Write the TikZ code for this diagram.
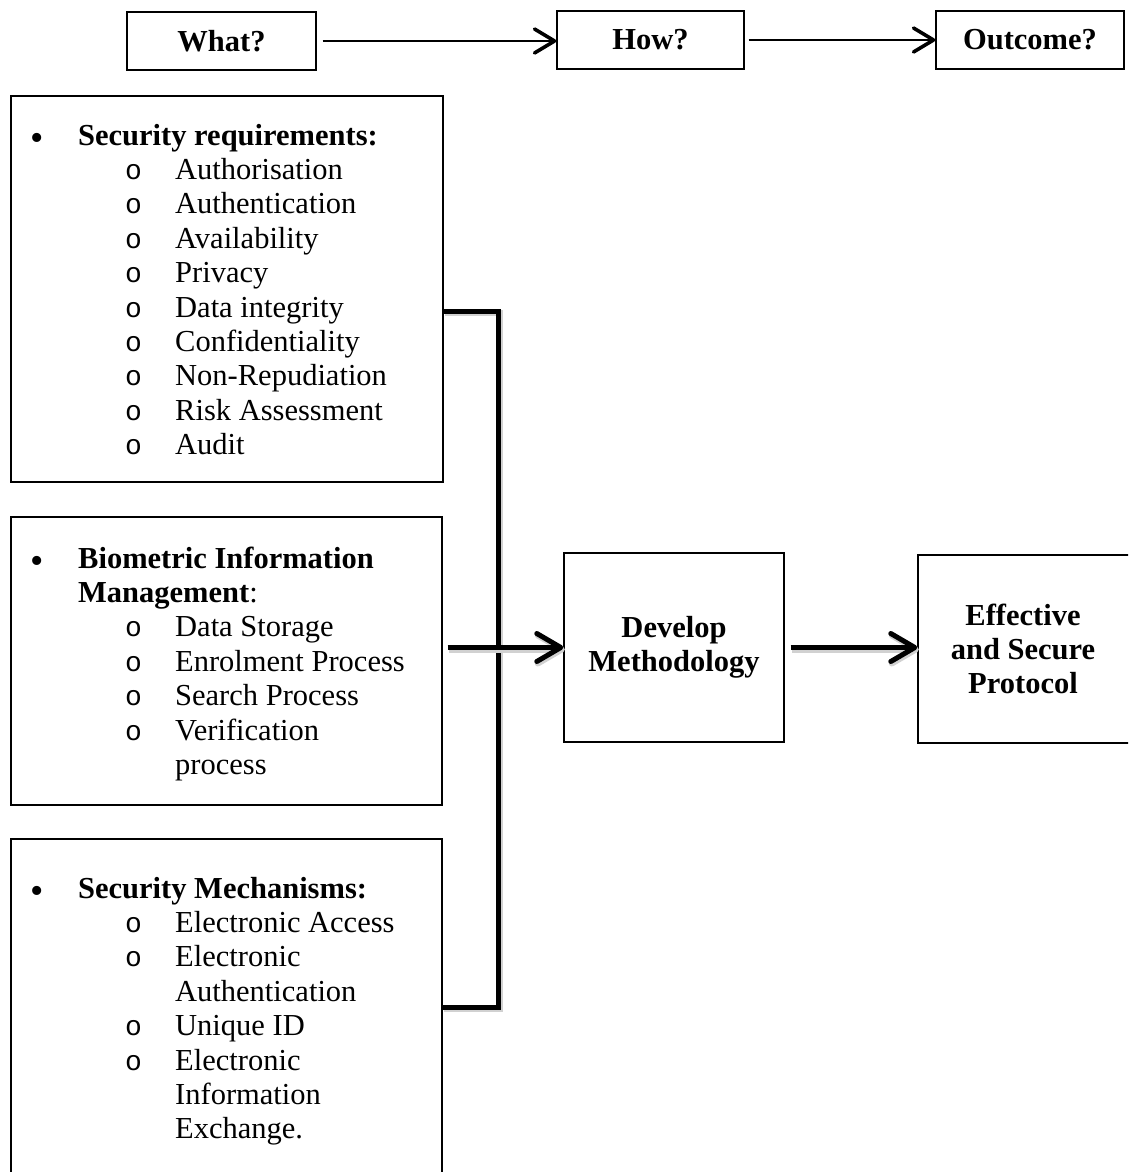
\documentclass[tikz,border=0pt]{standalone}
\usepackage{fontspec}
\setmainfont{Liberation Serif}
\setmonofont{Liberation Mono}
\usetikzlibrary{arrows.meta}

% list line helpers
\newcommand{\bulletmark}{{\fontsize{38}{34.4}\selectfont\raisebox{-5pt}{\textbullet}}}
\newcommand{\circmark}{{\fontsize{28}{34.4}\selectfont\texttt{o}}}
\newcommand{\hdline}[1]{\makebox[48pt][l]{\bulletmark}\textbf{#1}}
\newcommand{\hdcont}[1]{\hspace*{48pt}#1}
\newcommand{\subitm}[1]{\hspace*{95pt}\makebox[50pt][l]{\circmark}#1}
\newcommand{\subcont}[1]{\hspace*{145pt}#1}

\begin{document}
\begin{tikzpicture}[x=1pt,y=-1pt,
  font=\fontsize{30.5}{34.4}\selectfont,
  frame/.style={draw, line width=1.4pt, inner sep=0pt, align=center},
  listtext/.style={inner sep=0pt, text width=410pt, align=flush left, anchor=north west},
  thinarrow/.style={line width=2.2pt, -{Straight Barb[length=20pt,width=24pt,line width=3.6pt,round]}},
  thick link/.style={line width=5pt, line join=miter,
    preaction={draw=black!18, line width=6pt, transform canvas={shift={(1.5pt,-2pt)}}}},
  thickarrow/.style={thick link, -{Straight Barb[length=24pt,width=28pt,round]}}]

\useasboundingbox (0,0) rectangle (1128,1172);
\clip (0,0) rectangle (1128,1172);

% heading row
\node[frame, minimum width=189pt, minimum height=58pt] (what) at (221.5,41) {\textbf{What?}};
\node[frame, minimum width=187pt, minimum height=58pt] (how) at (650.5,40) {\textbf{How?}};
\node[frame, minimum width=188pt, minimum height=58pt] (outcome) at (1030,40) {\textbf{Outcome?}};

\draw[thinarrow, shorten <=6pt] (what.east) -- (how.west |- what.east);
\draw[thinarrow, shorten <=4pt] (how.east) -- (outcome.west |- how.east);

% input boxes
\node[frame, minimum width=432pt, minimum height=386pt] (req) at (227,289) {};
\node[frame, minimum width=431pt, minimum height=288pt] (bim) at (226.5,661) {};
\node[frame, minimum width=431pt, minimum height=351pt] (mech) at (226.5,1014.5) {};

\node[listtext] (reqtxt) at (30,120.9) {\strut\hdline{Security requirements:}\\
  \subitm{Authorisation}\\
  \subitm{Authentication}\\
  \subitm{Availability}\\
  \subitm{Privacy}\\
  \subitm{Data integrity}\\
  \subitm{Confidentiality}\\
  \subitm{Non-Repudiation}\\
  \subitm{Risk Assessment}\\
  \subitm{Audit}};

\node[listtext] (bimtxt) at (30,543.9) {\strut\hdline{Biometric Information}\\
  \hdcont{\textbf{Management}:}\\
  \subitm{Data Storage}\\
  \subitm{Enrolment Process}\\
  \subitm{Search Process}\\
  \subitm{Verification}\\
  \subcont{process}};

\node[listtext] (mechtxt) at (30,873.9) {\strut\hdline{Security Mechanisms:}\\
  \subitm{Electronic Access}\\
  \subitm{Electronic}\\
  \subcont{Authentication}\\
  \subitm{Unique ID}\\
  \subitm{Electronic}\\
  \subcont{Information}\\
  \subcont{Exchange.}};

% process and result
\node[frame, minimum width=220pt, minimum height=189pt] (dev) at (674,647.5)
  {\textbf{Develop}\\\textbf{Methodology}};
\node[frame, minimum width=240pt, minimum height=188pt] (eff) at (1038,649) {};
\node[inner sep=0pt, align=center] (efftxt) at (1023,649)
  {\textbf{Effective}\\\textbf{and Secure}\\\textbf{Protocol}};

% collecting bus
\coordinate (jtop) at (498,311);
\coordinate (jbot) at (498,1007);
\draw[thick link] (req.east |- jtop) -- (jtop) -- (jbot) -- (mech.east |- jbot);
\draw[thickarrow, shorten <=5pt] (bim.east |- dev.west) -- (dev.west);
\draw[thickarrow, shorten <=6pt] (dev.east) -- (eff.west |- dev.east);

\end{tikzpicture}
\end{document}
